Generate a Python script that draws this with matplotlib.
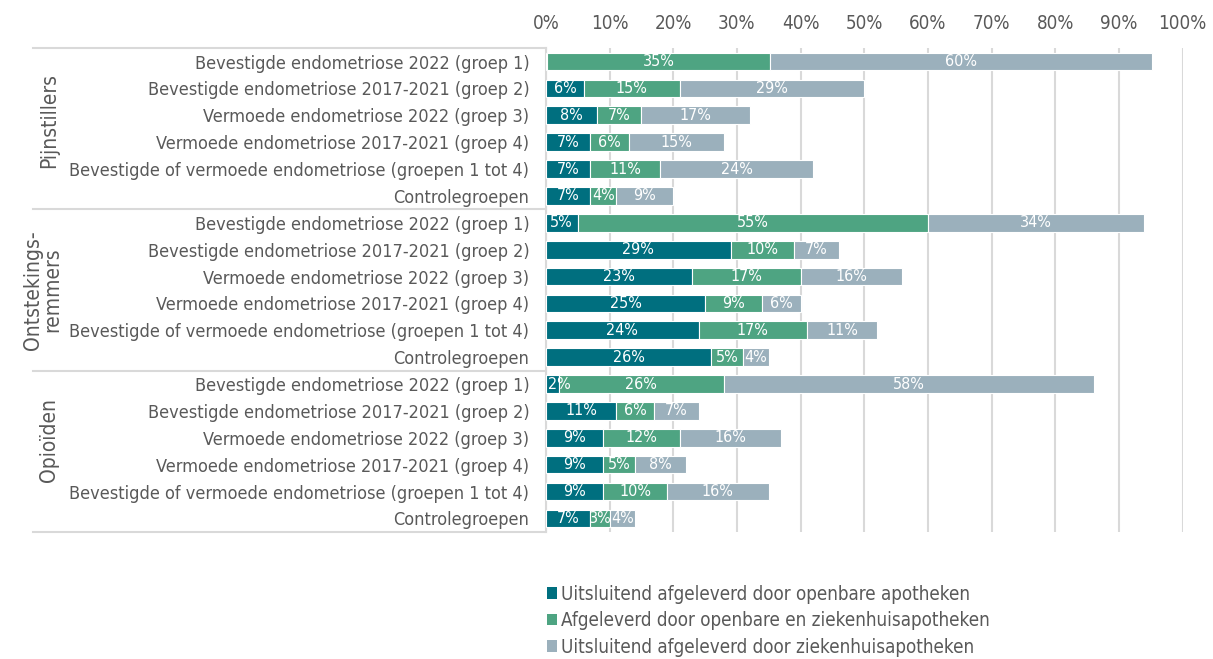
import matplotlib.pyplot as plt
import matplotlib.ticker as mticker
from matplotlib.patches import Patch
import numpy as np

plt.rcParams['font.family'] = ['DejaVu Sans']
plt.rcParams['font.stretch'] = 'condensed'

groups = ["Pijnstillers", "Ontstekings-\nremmers", "Opioïden"]
categories = [
    "Bevestigde endometriose 2022 (groep 1)",
    "Bevestigde endometriose 2017-2021 (groep 2)",
    "Vermoede endometriose 2022 (groep 3)",
    "Vermoede endometriose 2017-2021 (groep 4)",
    "Bevestigde of vermoede endometriose (groepen 1 tot 4)",
    "Controlegroepen",
]

# percentages per group, rows in the order of categories
openbaar = [0.2, 6, 8, 7, 7, 7,
            5, 29, 23, 25, 24, 26,
            2, 11, 9, 9, 9, 7]
beide = [35, 15, 7, 6, 11, 4,
         55, 10, 17, 9, 17, 5,
         26, 6, 12, 5, 10, 3]
ziekenhuis = [60, 29, 17, 15, 24, 9,
              34, 7, 16, 6, 11, 4,
              58, 7, 16, 8, 16, 4]

series_names = [
    "Uitsluitend afgeleverd door openbare apotheken",
    "Afgeleverd door openbare en ziekenhuisapotheken",
    "Uitsluitend afgeleverd door ziekenhuisapotheken",
]
colors = ["#006f7f", "#4ea482", "#9bb0bc"]
text_grey = "#595959"
line_grey = "#d9d9d9"

labels = categories * len(groups)
y = np.arange(len(labels))

fig = plt.figure(figsize=(12.13, 6.59), dpi=100)
ax = fig.add_axes([0.450, 0.193, 0.525, 0.734])

left = np.zeros(len(labels))
for vals, col in zip([openbaar, beide, ziekenhuis], colors):
    vals = np.array(vals, dtype=float)
    ax.barh(y, vals, left=left, height=0.66, color=col,
            edgecolor="white", linewidth=0.8, zorder=3)
    for yi, l, v in zip(y, left, vals):
        if v >= 1:
            # keep very narrow labels from spilling past the axis
            xc = max(l + v / 2, 2.1)
            ax.text(xc, yi, f"{v:.0f}%", ha="center", va="center",
                    color="white", fontsize=11.5, zorder=4)
    left += vals

ax.set_xlim(0, 100)
ax.set_ylim(17.5, -0.5)
ax.xaxis.tick_top()
ax.xaxis.set_major_locator(mticker.MultipleLocator(10))
ax.xaxis.set_major_formatter(mticker.PercentFormatter(decimals=0))
ax.tick_params(axis="x", length=0, labelsize=13.5, labelcolor=text_grey, pad=11)
ax.set_yticks(y)
ax.set_yticklabels(labels)
ax.tick_params(axis="y", length=0, labelsize=13, labelcolor=text_grey, pad=12)
ax.grid(axis="x", color=line_grey, linewidth=1.5, zorder=0)

for s in ["top", "right", "bottom"]:
    ax.spines[s].set_visible(False)
ax.spines["left"].set_color(line_grey)
ax.spines["left"].set_linewidth(1.5)

# group separators reaching out into the label area
trans = ax.get_yaxis_transform()
for yb in [-0.5, 5.5, 11.5, 17.5]:
    ax.plot([-0.805, 0], [yb, yb], color=line_grey, linewidth=1.5,
            transform=trans, clip_on=False)

# group names, rotated
group_pos = [(-0.78, 2.2), (-0.79, 8.5), (-0.78, 14.1)]
for name, (gx, gy) in zip(groups, group_pos):
    ax.text(gx, gy, name, rotation=90, ha="center", va="center",
            fontsize=15, color=text_grey, transform=trans, linespacing=0.95)

handles = [Patch(facecolor=c, edgecolor="none") for c in colors]
fig.legend(handles, series_names, loc="upper left", bbox_to_anchor=(0.451, 0.113),
           frameon=False, fontsize=13.5, labelcolor=text_grey,
           handlelength=0.55, handleheight=0.55, handletextpad=0.2,
           labelspacing=0.4, borderaxespad=0, borderpad=0)

fig.savefig("out.png", dpi=100)
